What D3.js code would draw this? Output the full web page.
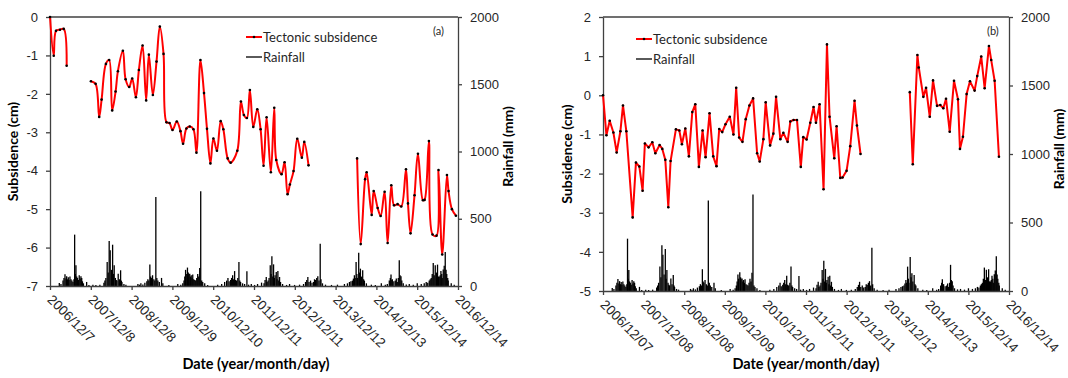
<!DOCTYPE html>
<html>
<head>
<meta charset="utf-8">
<script src="https://cdn.jsdelivr.net/npm/d3@7"></script>
<style>
  body { margin: 0; background: #fff; }
  svg { display: block; font-family: Lato, "Open Sans", sans-serif; }
</style>
</head>
<body>
<svg id="chart" width="1068" height="378"></svg>
<script>
// x tick labels (dates of the major ticks)
const tickLabelsA = ['2006/12/7', '2007/12/8', '2008/12/8', '2009/12/9', '2010/12/10', '2011/12/11',
  '2012/12/11', '2013/12/12', '2014/12/13', '2015/12/14', '2016/12/14'];
const tickLabelsB = ['2006/12/07', '2007/12/08', '2008/12/08', '2009/12/09', '2010/12/10', '2011/12/11',
  '2012/12/11', '2013/12/12', '2014/12/13', '2015/12/14', '2016/12/14'];
const rainTicks = [0, 500, 1000, 1500, 2000];

// panel (a) tectonic subsidence, time in decimal years, value in cm (null = gap)
const subsYearA = [2006.932, 2007.023, 2007.079, 2007.177, 2007.268, 2007.341, 2007.64,
  2007.937, 2008.052, 2008.140, 2008.199, 2008.305, 2008.385, 2008.459, 2008.542, 2008.599, 2008.721,
  2008.787, 2008.876, 2008.949, 2009.040, 2009.113, 2009.204, 2009.292, 2009.358, 2009.457, 2009.547,
  2009.628, 2009.719, 2009.792, 2009.866, 2009.939, 2010.045, 2010.135, 2010.199, 2010.282, 2010.363,
  2010.454, 2010.528, 2010.626, 2010.714, 2010.787, 2010.871, 2010.944, 2011.032, 2011.123, 2011.189,
  2011.295, 2011.368, 2011.532, 2011.621, 2011.694, 2011.768, 2011.841, 2011.925, 2012.023, 2012.104,
  2012.177, 2012.251, 2012.356, 2012.439, 2012.488, 2012.618, 2012.692, 2012.765, 2012.822, 2012.912,
  2013.003, 2013.116, 2013.175, 2013.280, 2013.9,
  2014.474, 2014.562, 2014.670, 2014.709, 2014.832, 2014.881, 2014.979, 2015.052, 2015.150, 2015.224,
  2015.314, 2015.381, 2015.469, 2015.559, 2015.675, 2015.724, 2015.787, 2015.885, 2015.969, 2016.091,
  2016.131, 2016.238, 2016.327, 2016.425, 2016.474, 2016.564, 2016.680, 2016.719, 2016.802, 2016.900];
const subsValA = [0, -1.01, -0.36, -0.33, -0.31, -1.27, null,
  -1.67, -1.74, -2.60, -2.15, -1.22, -1.12, -2.43, -1.94, -1.41, -0.88,
  -1.62, -1.82, -1.60, -2.09, -1.38, -0.74, -2.17, -0.98, -2.03, -1.16,
  -0.25, -0.96, -2.74, -2.76, -2.94, -2.72, -2.97, -3.30, -2.90, -2.85,
  -2.92, -3.53, -1.12, -1.98, -2.91, -3.81, -3.16, -3.48, -2.71, -2.92,
  -3.68, -3.79, -3.48, -2.20, -2.55, -2.63, -1.90, -2.86, -2.40, -2.92,
  -3.87, -2.61, -4.04, -2.36, -3.72, -4.09, -3.78, -4.61, -4.36, -4.01,
  -3.17, -3.66, -3.25, -3.86, null,
  -3.68, -5.91, -4.22, -4.04, -5.15, -4.53, -4.97, -5.18, -4.55, -5.88,
  -4.38, -4.90, -4.87, -4.93, -3.96, -4.85, -5.63, -4.64, -3.56, -4.77,
  -4.76, -3.23, -5.66, -5.69, -3.98, -6.18, -4.11, -4.53, -5.00, -5.17];

// panel (b) tectonic subsidence
const subsYearB = [2006.932, 2007.016, 2007.097, 2007.188, 2007.269, 2007.361, 2007.425, 2007.508,
  2007.664, 2007.745, 2007.829, 2007.910, 2007.966, 2008.058, 2008.149, 2008.223, 2008.329, 2008.395,
  2008.469, 2008.543, 2008.599, 2008.730, 2008.814, 2008.878, 2008.962, 2009.050, 2009.134, 2009.208,
  2009.297, 2009.388, 2009.462, 2009.560, 2009.651, 2009.732, 2009.799, 2009.873, 2009.954, 2010.060,
  2010.151, 2010.218, 2010.292, 2010.373, 2010.454, 2010.545, 2010.636, 2010.735, 2010.799, 2010.890,
  2010.947, 2011.055, 2011.136, 2011.203, 2011.309, 2011.383, 2011.489, 2011.555, 2011.636, 2011.720,
  2011.814, 2011.875, 2011.957, 2012.048, 2012.129, 2012.188, 2012.277, 2012.375, 2012.459, 2012.523,
  2012.639, 2012.696, 2012.787, 2012.843, 2012.942, 2013.033, 2013.139, 2013.198, 2013.287, 2013.9,
  2014.503, 2014.577, 2014.691, 2014.725, 2014.838, 2014.905, 2014.996, 2015.077, 2015.176, 2015.257,
  2015.331, 2015.398, 2015.489, 2015.595, 2015.693, 2015.742, 2015.816, 2015.907, 2015.989, 2016.104,
  2016.168, 2016.267, 2016.351, 2016.457, 2016.513, 2016.597, 2016.703];
const subsValB = [0, -1.02, -0.65, -0.95, -1.46, -0.92, -0.26, -0.92,
  -3.12, -1.72, -1.82, -2.44, -1.23, -1.33, -1.20, -1.48, -1.27, -1.37,
  -1.65, -2.86, -1.68, -0.87, -0.90, -1.25, -0.85, -1.56, -0.43, -0.23,
  -1.83, -0.90, -1.58, -0.46, -1.56, -1.81, -0.86, -0.94, -0.74, -0.55,
  -1.00, 0.19, -1.08, -1.19, -0.61, -0.26, -0.08, -1.48, -1.69, -1.12,
  -0.18, -1.28, -0.98, -0.04, -1.12, -0.96, -1.19, -0.67, -0.63, -0.63,
  -1.83, -1.07, -1.13, -0.70, -0.30, -0.70, -0.23, -2.40, 1.30, -0.55,
  -1.61, -0.79, -2.11, -2.10, -1.93, -1.30, -0.14, -0.77, -1.50, null,
  0.08, -1.76, 1.03, 0.71, -0.04, 0.19, -0.55, 0.38, -0.27, -0.25,
  -0.33, -0.09, -0.93, 0.37, -0.10, -1.37, -1.06, 0.03, 0.36, 0.12,
  0.49, 0.99, 0.18, 1.26, 0.90, 0.37, -1.57];

// daily rainfall events (same series in both panels), decimal years and mm
const rainYear = [
  2007.160, 2007.201, 2007.251, 2007.275, 2007.300, 2007.324, 2007.341, 2007.361, 2007.381, 2007.398,
  2007.422, 2007.447, 2007.471, 2007.496, 2007.520, 2007.537, 2007.552, 2007.569, 2007.588, 2007.606,
  2007.628, 2007.650, 2007.672, 2007.692, 2007.711, 2007.729, 2007.753, 2007.832, 2007.888, 2007.986,
  2008.059, 2008.157, 2008.256, 2008.280, 2008.304, 2008.336, 2008.361, 2008.385, 2008.410, 2008.439,
  2008.469, 2008.488, 2008.508, 2008.537, 2008.557, 2008.574, 2008.606, 2008.635, 2008.665, 2008.684,
  2008.697, 2008.746, 2008.795, 2009.089, 2009.126, 2009.162, 2009.211, 2009.260, 2009.309, 2009.334,
  2009.358, 2009.383, 2009.403, 2009.420, 2009.449, 2009.481, 2009.505, 2009.530, 2009.554, 2009.579,
  2009.615, 2009.670, 2009.702, 2009.850, 2010.069, 2010.143, 2010.192, 2010.222, 2010.241, 2010.261,
  2010.278, 2010.307, 2010.327, 2010.339, 2010.363, 2010.383, 2010.400, 2010.420, 2010.437, 2010.461,
  2010.486, 2010.510, 2010.535, 2010.559, 2010.584, 2010.608, 2010.633, 2010.657, 2010.682, 2010.731,
  2010.804, 2011.050, 2011.148, 2011.221, 2011.270, 2011.302, 2011.331, 2011.368, 2011.392, 2011.417,
  2011.441, 2011.466, 2011.490, 2011.515, 2011.544, 2011.572, 2011.593, 2011.613, 2011.662, 2011.711,
  2011.768, 2011.809, 2011.876, 2011.957, 2012.030, 2012.128, 2012.189, 2012.214, 2012.243, 2012.263,
  2012.287, 2012.312, 2012.341, 2012.361, 2012.381, 2012.403, 2012.422, 2012.442, 2012.459, 2012.488,
  2012.508, 2012.528, 2012.550, 2012.569, 2012.593, 2012.643, 2012.741, 2012.814, 2012.937, 2013.059,
  2013.157, 2013.206, 2013.236, 2013.263, 2013.292, 2013.329, 2013.365, 2013.403, 2013.427, 2013.452,
  2013.481, 2013.508, 2013.537, 2013.567, 2013.586, 2013.623, 2013.697, 2013.844, 2013.991, 2014.162,
  2014.236, 2014.285, 2014.322, 2014.358, 2014.383, 2014.407, 2014.427, 2014.449, 2014.468, 2014.481,
  2014.513, 2014.535, 2014.555, 2014.579, 2014.611, 2014.633, 2014.653, 2014.702, 2014.824, 2014.922,
  2015.069, 2015.167, 2015.216, 2015.265, 2015.290, 2015.307, 2015.327, 2015.339, 2015.376, 2015.412,
  2015.437, 2015.461, 2015.486, 2015.510, 2015.530, 2015.552, 2015.572, 2015.608, 2015.682, 2015.756,
  2015.854, 2015.952, 2016.050, 2016.123, 2016.172, 2016.209, 2016.246, 2016.270, 2016.295, 2016.319,
  2016.344, 2016.368, 2016.393, 2016.422, 2016.449, 2016.471, 2016.491, 2016.515, 2016.532, 2016.552,
  2016.564, 2016.589, 2016.613, 2016.638, 2016.658, 2016.675, 2016.699, 2016.711, 2016.785, 2016.858];
const rainMm = [
  22, 15, 40, 60, 87, 55, 72, 50, 65, 45,
  70, 50, 40, 30, 50, 382, 90, 154, 70, 60,
  45, 80, 55, 72, 60, 35, 20, 30, 8, 10,
  8, 10, 25, 40, 60, 178, 100, 334, 265, 120,
  307, 90, 154, 60, 45, 40, 92, 50, 117, 40,
  30, 15, 10, 15, 10, 20, 12, 25, 35, 50,
  40, 159, 70, 60, 80, 50, 40, 661, 60, 40,
  30, 60, 20, 8, 15, 10, 20, 40, 70, 120,
  90, 137, 100, 90, 92, 70, 80, 60, 85, 50,
  45, 40, 60, 90, 70, 134, 704, 40, 30, 20,
  8, 10, 15, 30, 40, 60, 35, 45, 60, 80,
  50, 111, 45, 40, 60, 178, 40, 30, 20, 15,
  109, 10, 15, 8, 15, 25, 20, 45, 67, 30,
  40, 60, 154, 90, 221, 70, 161, 60, 80, 104,
  50, 111, 40, 67, 30, 15, 8, 15, 8, 10,
  15, 30, 45, 67, 30, 40, 25, 30, 50, 45,
  60, 72, 40, 315, 50, 20, 10, 8, 10, 15,
  20, 30, 35, 40, 55, 80, 60, 178, 90, 60,
  248, 100, 129, 70, 117, 50, 40, 20, 10, 8,
  20, 10, 15, 40, 60, 85, 45, 50, 35, 40,
  55, 30, 60, 191, 80, 72, 40, 20, 12, 15,
  10, 20, 15, 20, 30, 25, 40, 50, 60, 90,
  171, 80, 155, 100, 159, 70, 70, 80, 111, 90,
  60, 122, 150, 253, 120, 90, 60, 40, 20, 10];

const svg = d3.select('#chart');
const parseTick = d3.timeParse('%Y/%m/%d');
const toDate = (y) => {
  const yr = Math.floor(y);
  const start = new Date(yr, 0, 1);
  const end = new Date(yr + 1, 0, 1);
  return new Date(+start + (y - yr) * (end - start));
};

const axisColor = '#404040';
const textColor = '#262626';

const panels = [
  {
    left: 50, right: 458, top: 17, bottom: 286, yDomain: [-7, 0],
    tickLabels: tickLabelsA, years: subsYearA, values: subsValA, smooth: true,
    tag: '(a)', tagX: 433, tagY: 35, legX: 246, legY: 37,
    yTitleX: 18, y2TitleX: 513, xTitleX: 256
  },
  {
    left: 603, right: 1009, top: 17, bottom: 291, yDomain: [-5, 2],
    tickLabels: tickLabelsB, years: subsYearB, values: subsValB, smooth: false,
    tag: '(b)', tagX: 987, tagY: 35, legX: 636, legY: 39,
    yTitleX: 572, y2TitleX: 1064, xTitleX: 806
  }
];

panels.forEach(p => {
  const g = svg.append('g');
  const tickDates = p.tickLabels.map(parseTick);

  const x = d3.scaleTime()
    .domain([tickDates[0], tickDates[tickDates.length - 1]])
    .range([p.left, p.right]);
  const y = d3.scaleLinear().domain(p.yDomain).range([p.bottom, p.top]);
  const y2 = d3.scaleLinear().domain([0, 2000]).range([p.bottom, p.top]);

  // rainfall spikes
  g.append('g')
    .selectAll('line')
    .data(rainYear.map((t, i) => ({ t: toDate(t), v: rainMm[i] })))
    .join('line')
    .attr('x1', d => x(d.t))
    .attr('x2', d => x(d.t))
    .attr('y1', y2(0))
    .attr('y2', d => y2(d.v))
    .attr('stroke', '#000')
    .attr('stroke-width', 1.3);

  // top frame line
  g.append('line')
    .attr('x1', p.left).attr('x2', p.right)
    .attr('y1', p.top).attr('y2', p.top)
    .attr('stroke', axisColor).attr('stroke-width', 1.3);

  // left axis
  const yTicks = d3.range(p.yDomain[0], p.yDomain[1] + 1, 1);
  g.append('g')
    .attr('transform', `translate(${p.left},0)`)
    .call(d3.axisLeft(y).tickValues(yTicks).tickFormat(d => String(d))
      .tickSize(4).tickSizeOuter(0).tickPadding(8))
    .call(a => a.selectAll('path, line').attr('stroke', axisColor).attr('stroke-width', 1.3))
    .call(a => a.selectAll('text').attr('fill', textColor).attr('font-size', 13));

  // right axis
  g.append('g')
    .attr('transform', `translate(${p.right},0)`)
    .call(d3.axisRight(y2).tickValues(rainTicks).tickFormat(d => String(d))
      .tickSize(4).tickSizeOuter(0).tickPadding(8))
    .call(a => a.selectAll('path, line').attr('stroke', axisColor).attr('stroke-width', 1.3))
    .call(a => a.selectAll('text').attr('fill', textColor).attr('font-size', 13));

  // bottom axis with rotated date labels
  g.append('g')
    .attr('transform', `translate(0,${p.bottom})`)
    .call(d3.axisBottom(x).tickValues(tickDates).tickFormat((d, i) => p.tickLabels[i])
      .tickSize(4).tickSizeOuter(0))
    .call(a => a.selectAll('path, line').attr('stroke', axisColor).attr('stroke-width', 1.3))
    .call(a => a.selectAll('text')
      .attr('fill', textColor)
      .attr('font-size', 13.5)
      .attr('x', 7.5)
      .attr('y', 13)
      .attr('dy', 0)
      .style('text-anchor', 'start')
      .attr('transform', 'rotate(45)'));

  // subsidence series
  const pts = p.years.map((t, i) => ({ t: toDate(t), v: p.values[i] }));
  const line = d3.line()
    .defined(d => d.v !== null)
    .x(d => x(d.t))
    .y(d => y(d.v))
    .curve(p.smooth ? d3.curveCatmullRom.alpha(0.5) : d3.curveLinear);

  g.append('path')
    .datum(pts)
    .attr('fill', 'none')
    .attr('stroke', '#ff0000')
    .attr('stroke-width', 2)
    .attr('stroke-linejoin', 'round')
    .attr('d', line);

  g.append('g')
    .selectAll('circle')
    .data(pts.filter(d => d.v !== null))
    .join('circle')
    .attr('cx', d => x(d.t))
    .attr('cy', d => y(d.v))
    .attr('r', 1.3)
    .attr('fill', '#000');

  // legend
  const leg = g.append('g').attr('font-size', 13).attr('fill', textColor);
  leg.append('line')
    .attr('x1', p.legX).attr('x2', p.legX + 16)
    .attr('y1', p.legY).attr('y2', p.legY)
    .attr('stroke', '#ff0000').attr('stroke-width', 2);
  leg.append('circle')
    .attr('cx', p.legX + 8).attr('cy', p.legY).attr('r', 1.3).attr('fill', '#000');
  leg.append('text')
    .attr('x', p.legX + 17).attr('y', p.legY + 5)
    .text('Tectonic subsidence');
  leg.append('line')
    .attr('x1', p.legX).attr('x2', p.legX + 16)
    .attr('y1', p.legY + 20).attr('y2', p.legY + 20)
    .attr('stroke', '#000').attr('stroke-width', 1.3);
  leg.append('text')
    .attr('x', p.legX + 17).attr('y', p.legY + 25)
    .text('Rainfall');

  g.append('text')
    .attr('x', p.tagX).attr('y', p.tagY)
    .attr('font-size', 11).attr('fill', textColor)
    .text(p.tag);

  // axis titles
  const midY = (p.top + p.bottom) / 2;
  g.append('text')
    .attr('transform', `translate(${p.yTitleX},${midY}) rotate(-90)`)
    .attr('text-anchor', 'middle')
    .attr('font-size', 14).attr('font-weight', 'bold').attr('fill', '#000')
    .text('Subsidence (cm)');
  g.append('text')
    .attr('transform', `translate(${p.y2TitleX},${midY - 5}) rotate(-90)`)
    .attr('text-anchor', 'middle')
    .attr('font-size', 14).attr('font-weight', 'bold').attr('fill', '#000')
    .text('Rainfall (mm)');
  g.append('text')
    .attr('x', p.xTitleX).attr('y', 369)
    .attr('text-anchor', 'middle')
    .attr('font-size', 14.5).attr('font-weight', 'bold').attr('fill', '#000')
    .text('Date (year/month/day)');
});
</script>
</body>
</html>
